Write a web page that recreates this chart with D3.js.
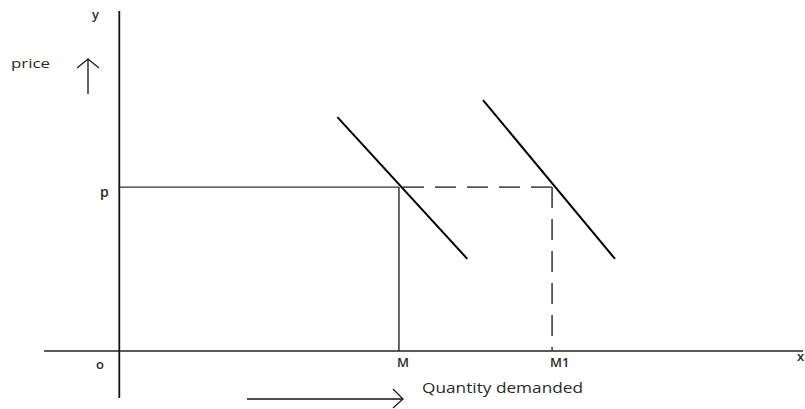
<!DOCTYPE html>
<html>
<head>
<meta charset="utf-8">
<script src="https://cdn.jsdelivr.net/npm/d3@7"></script>
<style>
  html, body { margin: 0; padding: 0; background: #fff; }
  svg { display: block; }
  text { font-family: "Open Sans", "DejaVu Sans", sans-serif; fill: #2a2a2a; }
</style>
</head>
<body>
<svg id="chart" width="805" height="409"></svg>
<script>
// ---- data (abstract units: quantity 0..100, price 0..100) ----
const demandCurves = [
  { name: "D",  points: [[31.9, 68.8], [50.9, 27.1]] },
  { name: "D1", points: [[53.2, 73.8], [72.5, 27.1]] }
];
const priceLevel = 48.2;
const quantityMarks = [
  { label: "M",  q: 40.9, style: "solid" },
  { label: "M1", q: 63.3, style: "dashed" }
];
const axisLabels = { x: "x", y: "y", origin: "o", price: "p" };
const titles = { yTitle: "price", xTitle: "Quantity demanded" };
const axisExtent = { xMin: -11, xMax: 100, yMin: -13.8, yMax: 100 };

// ---- scales ----
const svg = d3.select("#chart");
const x = d3.scaleLinear().domain([0, 100]).range([119.3, 803]);
const y = d3.scaleLinear().domain([0, 100]).range([351, 11]);

// axes
svg.append("line")
  .attr("x1", x(axisExtent.xMin)).attr("x2", x(axisExtent.xMax))
  .attr("y1", y(0)).attr("y2", y(0))
  .attr("stroke", "#222").attr("stroke-width", 1.6);
svg.append("line")
  .attr("x1", x(0)).attr("x2", x(0))
  .attr("y1", y(axisExtent.yMin)).attr("y2", y(axisExtent.yMax))
  .attr("stroke", "#111").attr("stroke-width", 1.8);

// price level line: solid to M, dashed to M1
const qM = quantityMarks[0].q, qM1 = quantityMarks[1].q;
svg.append("line")
  .attr("x1", x(0)).attr("x2", x(qM))
  .attr("y1", y(priceLevel)).attr("y2", y(priceLevel))
  .attr("stroke", "#333").attr("stroke-width", 1.2);
svg.append("line")
  .attr("x1", x(qM) + 4).attr("x2", x(qM1))
  .attr("y1", y(priceLevel)).attr("y2", y(priceLevel))
  .attr("stroke", "#555").attr("stroke-width", 1.8)
  .attr("stroke-dasharray", "21,11");

// vertical drop lines
quantityMarks.forEach(m => {
  svg.append("line")
    .attr("x1", x(m.q)).attr("x2", x(m.q))
    .attr("y1", y(priceLevel)).attr("y2", y(0))
    .attr("stroke", m.style === "dashed" ? "#555" : "#222")
    .attr("stroke-width", m.style === "dashed" ? 1.8 : 1.4)
    .attr("stroke-dasharray", m.style === "dashed" ? "21,11" : null);
  svg.append("text")
    .attr("x", x(m.q) - 2).attr("y", y(0) + 16)
    .attr("font-size", 13).attr("font-weight", 600)
    .text(m.label);
});

// demand curves
const line = d3.line().x(d => x(d[0])).y(d => y(d[1]));
svg.selectAll("path.demand").data(demandCurves).enter().append("path")
  .attr("class", "demand")
  .attr("d", d => line(d.points))
  .attr("fill", "none").attr("stroke", "#000").attr("stroke-width", 2);

// labels
svg.append("text").attr("x", 92).attr("y", 19).attr("font-size", 13).attr("font-weight", 600).text(axisLabels.y);
svg.append("text").attr("x", 797).attr("y", 361).attr("font-size", 13).attr("font-weight", 600).text(axisLabels.x);
svg.append("text").attr("x", 96).attr("y", 369).attr("font-size", 13).attr("font-weight", 600).text(axisLabels.origin);
svg.append("text").attr("x", 100).attr("y", 197).attr("font-size", 14).attr("font-weight", 600).text(axisLabels.price);

svg.append("text").attr("x", 11).attr("y", 68).attr("font-size", 13.5)
  .attr("textLength", 39).attr("lengthAdjust", "spacingAndGlyphs").text(titles.yTitle);
svg.append("text").attr("x", 422).attr("y", 393).attr("font-size", 14.5)
  .attr("textLength", 161).attr("lengthAdjust", "spacingAndGlyphs").text(titles.xTitle);

// arrows (open chevron heads)
// up arrow next to "price"
svg.append("line").attr("x1", 88).attr("x2", 88).attr("y1", 94).attr("y2", 60)
  .attr("stroke", "#111").attr("stroke-width", 1.3);
svg.append("path").attr("d", "M77,68 L88,59 L99,68")
  .attr("fill", "none").attr("stroke", "#111").attr("stroke-width", 1.2);
// right arrow under x axis
svg.append("line").attr("x1", 247).attr("x2", 402).attr("y1", 399).attr("y2", 399)
  .attr("stroke", "#111").attr("stroke-width", 1.3);
svg.append("path").attr("d", "M393,389 L403,399 L393,408")
  .attr("fill", "none").attr("stroke", "#111").attr("stroke-width", 1.2);
</script>
</body>
</html>
